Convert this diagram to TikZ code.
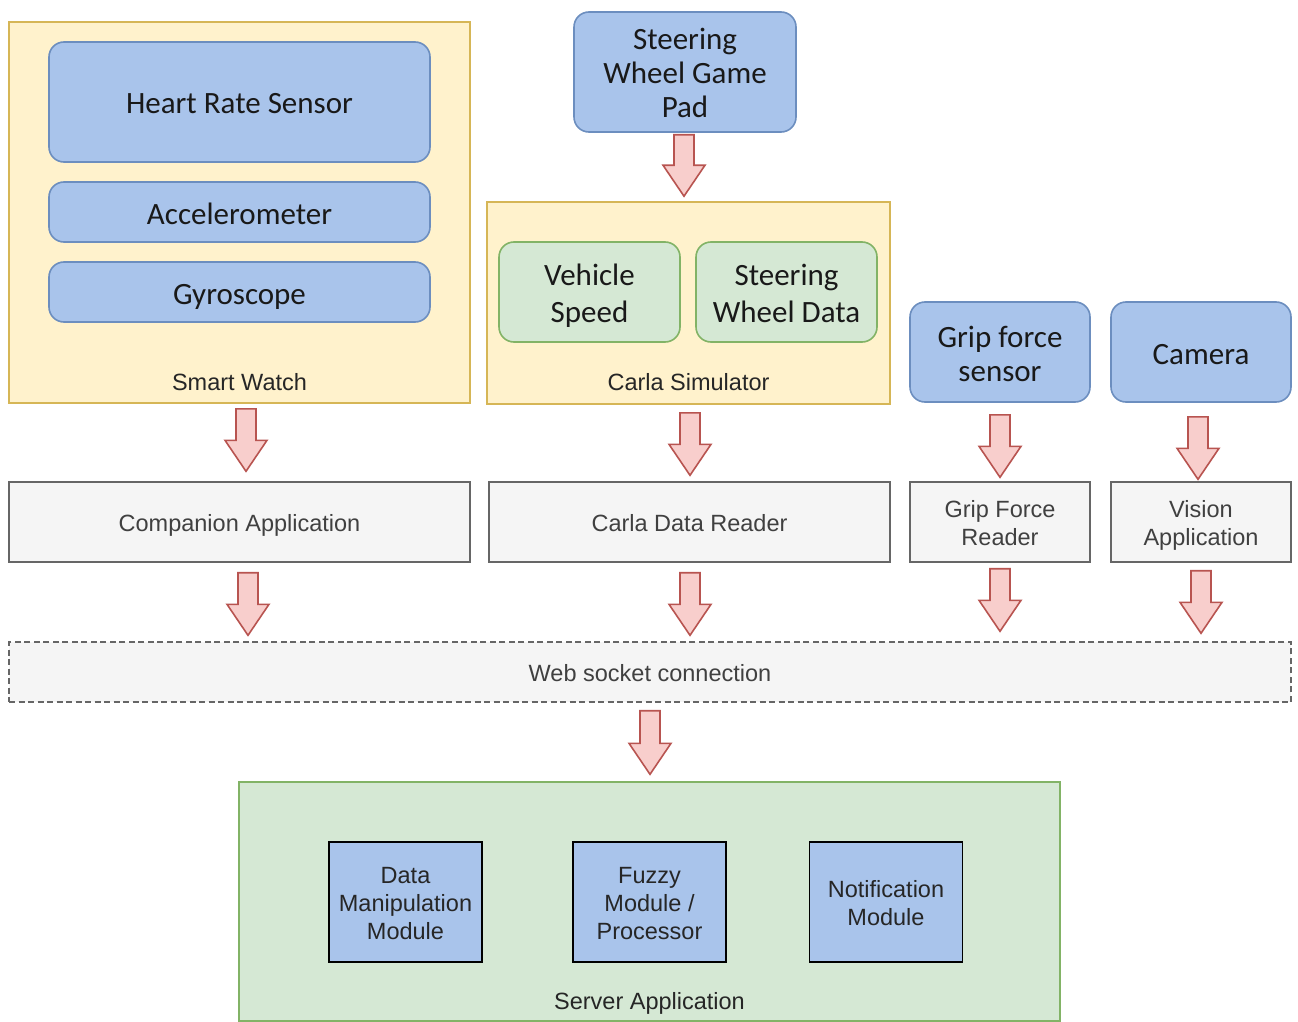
\documentclass[tikz,border=0pt]{standalone}
\usepackage{fontspec}
\setmainfont{Liberation Sans}
\newfontfamily\calib{Carlito}
\usetikzlibrary{calc}
\definecolor{bluefill}{HTML}{A9C4EB}
\definecolor{blueline}{HTML}{6C8EBF}
\definecolor{yelfill}{HTML}{FFF2CC}
\definecolor{yelline}{HTML}{D6B656}
\definecolor{grnfill}{HTML}{D5E8D4}
\definecolor{grnline}{HTML}{82B366}
\definecolor{grayfill}{HTML}{F5F5F5}
\definecolor{grayline}{HTML}{666666}
\definecolor{redfill}{HTML}{F8CECC}
\definecolor{redline}{HTML}{B85450}
\newcommand\hc{\rule{0pt}{33pt}}
\newcommand\ha{\rule{0pt}{24.8pt}}
\tikzset{
  calstrut/.style={execute at begin node={\hc}, execute at end node={\rule[-9pt]{0pt}{0pt}}},
  arstrut/.style={execute at begin node={\ha}, execute at end node={\rule[-6pt]{0pt}{0pt}}},
  bluebox/.style={draw=blueline, fill=bluefill, line width=1.6, rounded corners=15,
    font=\calib\fontsize{31}{34}\selectfont, text=black!90, align=center, inner sep=0, calstrut},
  grnbox/.style={draw=grnline, fill=grnfill, line width=1.6, rounded corners=15,
    font=\calib\fontsize{31}{37}\selectfont, text=black!90, align=center, inner sep=0, calstrut},
  contbox/.style={draw=yelline, fill=yelfill, line width=1.6, inner sep=0},
  graybox/.style={draw=grayline, fill=grayfill, line width=1.4, inner sep=0,
    font=\fontsize{23.5}{28}\selectfont, text=black!75, align=center, arstrut},
  modbox/.style={draw=black, fill=bluefill, line width=1.8, inner sep=0,
    font=\fontsize{23.5}{28}\selectfont, text=black!85, align=center,
    minimum width=153, minimum height=120, arstrut},
  clabel/.style={font=\fontsize{23.5}{28}\selectfont, text=black!85, inner sep=0},
  blockarrow/.style={draw=redline, fill=redfill, line width=1.6, line join=miter}
}
\newcommand\barrow[5]{%
  \path[blockarrow] let \p1=($(#1.south)+(#3,0)$), \p2=(#2.north) in
    (\x1-10pt,\y1-#4pt) -- (\x1+10pt,\y1-#4pt) -- (\x1+10pt,\y2+#5pt+31pt)
    -- (\x1+21pt,\y2+#5pt+31pt) -- (\x1,\y2+#5pt) -- (\x1-21pt,\y2+#5pt+31pt)
    -- (\x1-10pt,\y2+#5pt+31pt) -- cycle;}
\begin{document}
\begin{tikzpicture}[x=1pt,y=-1pt]
\useasboundingbox (0,0) rectangle (1298,1022);
\fill[white] (0,0) rectangle (1298,1022);
% Smart watch
\node[contbox, minimum width=461, minimum height=381] (watch) at (239.5,212.5) {};
\node[bluebox, minimum width=381, minimum height=120] (hr) at (239.5,102) {Heart Rate Sensor};
\node[bluebox, minimum width=381, minimum height=60] (acc) at (239.5,212) {Accelerometer};
\node[bluebox, minimum width=381, minimum height=60] (gyr) at (239.5,292) {Gyroscope};
\node[clabel] (watchlbl) at (239.5,382) {Smart Watch};
% Game pad
\node[bluebox, minimum width=222, minimum height=120] (pad) at (685,72) {\hc Steering\\Wheel Game\\Pad};
% Carla simulator
\node[contbox, minimum width=403, minimum height=202] (carla) at (688.5,303) {};
\node[grnbox, minimum width=181, minimum height=100] (speed) at (589.5,292) {\hc Vehicle\\Speed};
\node[grnbox, minimum width=181, minimum height=100] (swd) at (786.5,292) {\hc Steering\\Wheel Data};
\node[clabel] (carlalbl) at (688.5,382) {Carla Simulator};
% sensors
\node[bluebox, minimum width=180, minimum height=100] (grip) at (1000,352) {\hc Grip force\\sensor};
\node[bluebox, minimum width=180, minimum height=100] (cam) at (1201,352) {Camera};
% readers
\node[graybox, minimum width=461, minimum height=80] (comp) at (239.5,522) {Companion Application};
\node[graybox, minimum width=401, minimum height=80] (cdr) at (689.5,522) {Carla Data Reader};
\node[graybox, minimum width=180, minimum height=80] (gfr) at (1000,522) {\ha Grip Force\\Reader};
\node[graybox, minimum width=180, minimum height=80] (vis) at (1201,522) {\ha Vision\\Application};
% web socket
\node[graybox, dash pattern=on 6pt off 3.5pt, minimum width=1282, minimum height=60] (ws) at (650,672) {Web socket connection};
% server
\node[draw=grnline, fill=grnfill, line width=1.4, minimum width=821, minimum height=239, inner sep=0] (srv) at (649.5,901.5) {};
\node[modbox] (dmm) at (405.5,902) {\ha Data\\Manipulation\\Module};
\node[modbox] (fuz) at (649.5,902) {\ha Fuzzy\\Module /\\Processor};
\node[modbox] (notif) at (886,902) {\ha Notification\\Module};
\node[clabel] (srvlbl) at (649.5,1003) {Server Application};
% arrows
\barrow{pad}{carla}{-1}{2}{5}
\barrow{watch}{comp}{6.5}{5}{10}
\barrow{carla}{cdr}{1.5}{8}{6}
\barrow{grip}{gfr}{0}{12}{4}
\barrow{cam}{vis}{-3}{14}{2}
\barrow{comp}{ws}{8.5}{10}{6}
\barrow{cdr}{ws}{0.5}{10}{6}
\barrow{gfr}{ws}{0}{6}{10}
\barrow{vis}{ws}{0}{8}{8}
\barrow{ws}{srv}{0}{8}{7}
\end{tikzpicture}
\end{document}
